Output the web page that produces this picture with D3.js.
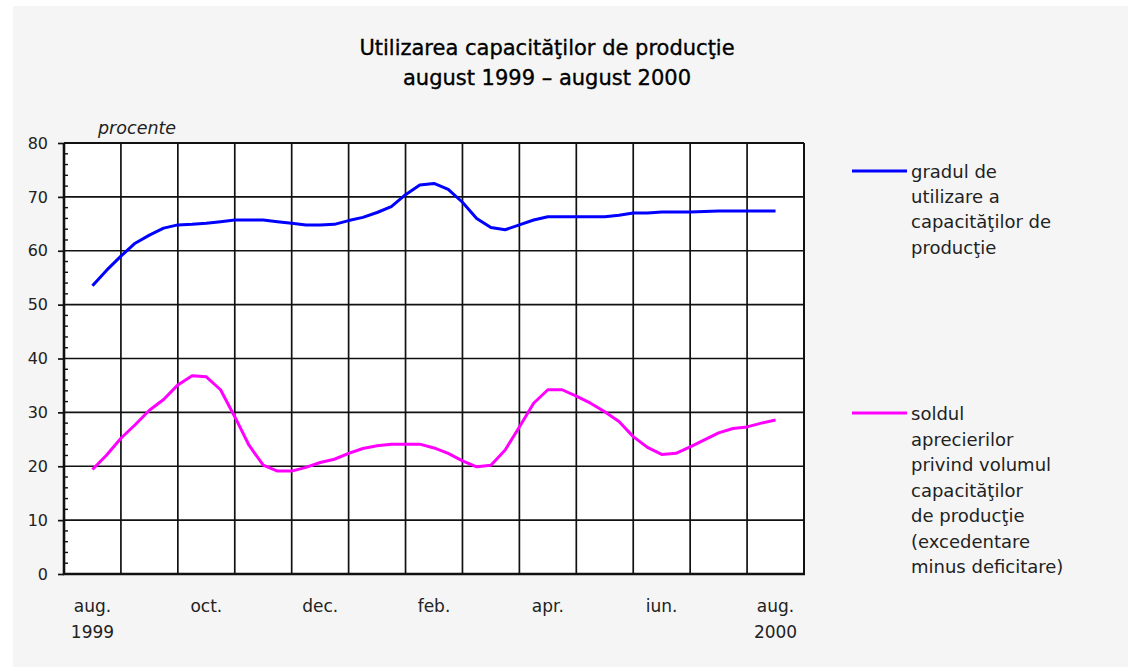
<!DOCTYPE html>
<html>
<head>
<meta charset="utf-8">
<script src="https://cdn.jsdelivr.net/npm/d3@7"></script>
<style>
body{margin:0;background:#fff;}
text{font-family:"DejaVu Sans",Arial,sans-serif;fill:#222;}
</style>
</head>
<body>
<div id="chart"></div>
<script>
var w = 1128;
var h = 667;

// luni (categorii) si etichete
var months = ["aug.","sep.","oct.","nov.","dec.","ian.","feb.","mar.","apr.","mai","iun.","iul.","aug."];
var monthLabels = ["aug.","","oct.","","dec.","","feb.","","apr.","","iun.","","aug."];
var yearLabels = ["1999","","","","","","","","","","","","2000"];
var yTicks = [0,10,20,30,40,50,60,70,80];

// valori citite la fiecare sfert de luna (aug 1999 ... aug 2000)
var gradUtilizare = [53.5,56.4,59.0,61.4,62.9,64.2,64.8,64.9,65.1,65.4,65.7,65.7,65.7,65.4,65.1,64.8,
	64.8,64.9,65.6,66.2,67.1,68.2,70.4,72.2,72.5,71.4,69.0,66.0,64.3,63.9,64.8,65.7,
	66.3,66.3,66.3,66.3,66.3,66.6,67.0,67.0,67.2,67.2,67.2,67.3,67.4,67.4,67.4,67.4,67.4];
var soldAprecieri = [19.4,22.1,25.2,27.7,30.4,32.4,35.1,36.8,36.6,34.2,29.2,23.9,20.2,19.1,19.1,19.8,
	20.7,21.3,22.4,23.3,23.8,24.1,24.1,24.1,23.4,22.4,21.0,19.9,20.2,23.0,27.3,31.7,
	34.2,34.2,33.0,31.7,30.1,28.3,25.5,23.5,22.2,22.4,23.6,24.9,26.2,27.0,27.3,28.0,28.6];

var legend1 = ["gradul de","utilizare a","capacităţilor de","producţie"];
var legend2 = ["soldul","aprecierilor","privind volumul","capacităţilor","de producţie","(excedentare","minus deficitare)"];

var pLeft = 64, pRight = 804, pTop = 143, pBottom = 574;

var svg = d3.select("#chart").append("svg")
	.attr("width", w)
	.attr("height", h);

svg.append("rect")
	.attr("x", 13).attr("y", 6)
	.attr("width", w - 13).attr("height", h - 6)
	.style("fill", "#f5f5f5");

// titlu
svg.append("text").attr("x", 547).attr("y", 55)
	.attr("text-anchor", "middle").style("font-size", "21px").style("fill", "#000")
	.style("stroke", "#000").style("stroke-width", 0.35)
	.text("Utilizarea capacităţilor de producţie");
svg.append("text").attr("x", 547).attr("y", 85)
	.attr("text-anchor", "middle").style("font-size", "21px").style("fill", "#000")
	.style("stroke", "#000").style("stroke-width", 0.35)
	.text("august 1999 – august 2000");

var xscale = d3.scaleBand()
	.domain(d3.range(months.length))
	.range([pLeft, pRight])
	.padding(0);

var xpos = d3.scaleLinear()
	.domain([0, months.length])
	.range([pLeft, pRight]);

var yscale = d3.scaleLinear()
	.domain([0, 80])
	.range([pBottom, pTop]);

svg.append("rect")
	.attr("x", pLeft).attr("y", pTop)
	.attr("width", pRight - pLeft).attr("height", pBottom - pTop)
	.style("fill", "#fff");

// grila orizontala
svg.selectAll(".hgrid")
	.data(yTicks.filter(function(d){return d > 0 && d < 80;}))
	.enter().append("line")
	.attr("x1", pLeft).attr("x2", pRight)
	.attr("y1", function(d){return yscale(d);})
	.attr("y2", function(d){return yscale(d);})
	.style("stroke", "#111").style("stroke-width", 1.7);

// grila verticala
svg.selectAll(".vgrid")
	.data(d3.range(1, months.length))
	.enter().append("line")
	.attr("x1", function(i){return xscale(i);})
	.attr("x2", function(i){return xscale(i);})
	.attr("y1", pTop).attr("y2", pBottom)
	.style("stroke", "#111").style("stroke-width", 1.7);

// chenar
svg.append("line").attr("x1", pLeft).attr("x2", pRight).attr("y1", pTop).attr("y2", pTop)
	.style("stroke", "#111").style("stroke-width", 2);
svg.append("line").attr("x1", pRight).attr("x2", pRight).attr("y1", pTop).attr("y2", pBottom)
	.style("stroke", "#111").style("stroke-width", 2);

// axa y
var yAxis = d3.axisLeft(yscale).tickValues(yTicks).tickSize(6).tickPadding(10);
var ga = svg.append("g").attr("transform", "translate(" + pLeft + ",0)").call(yAxis);
ga.select(".domain").remove();
ga.selectAll(".tick line").style("stroke", "#111").style("stroke-width", 1.7);
ga.selectAll(".tick text").style("font-size", "16px").style("font-family", "DejaVu Sans, Arial, sans-serif").style("fill", "#222");

// gradatii minore
svg.selectAll(".minor")
	.data(d3.range(0, 81, 2).filter(function(d){return d % 10 !== 0;}))
	.enter().append("line")
	.attr("x1", pLeft).attr("x2", pLeft + 4)
	.attr("y1", function(d){return yscale(d);})
	.attr("y2", function(d){return yscale(d);})
	.style("stroke", "#111").style("stroke-width", 1.4);

svg.append("line").attr("x1", pLeft).attr("x2", pLeft).attr("y1", pTop).attr("y2", pBottom + 1)
	.style("stroke", "#111").style("stroke-width", 2.6);
svg.append("line").attr("x1", pLeft - 1).attr("x2", pRight + 1).attr("y1", pBottom).attr("y2", pBottom)
	.style("stroke", "#111").style("stroke-width", 2.6);

svg.append("text").attr("x", 98).attr("y", 134)
	.style("font-size", "17.5px").style("font-style", "italic")
	.text("procente");

// etichete x
svg.selectAll(".mlab")
	.data(monthLabels)
	.enter().append("text")
	.attr("x", function(d, i){return xscale(i) + xscale.bandwidth() / 2;})
	.attr("y", 612)
	.attr("text-anchor", "middle")
	.style("font-size", "17px")
	.text(function(d){return d;});
svg.selectAll(".ylab")
	.data(yearLabels)
	.enter().append("text")
	.attr("x", function(d, i){return xscale(i) + xscale.bandwidth() / 2;})
	.attr("y", 638)
	.attr("text-anchor", "middle")
	.style("font-size", "17px")
	.text(function(d){return d;});

// linii
var line = d3.line()
	.x(function(d, i){return xpos(i / 4 + 0.5);})
	.y(function(d){return yscale(d);});

svg.append("path").datum(gradUtilizare)
	.attr("d", line)
	.style("fill", "none").style("stroke", "#0000ff").style("stroke-width", 3)
	.style("stroke-linejoin", "round");
svg.append("path").datum(soldAprecieri)
	.attr("d", line)
	.style("fill", "none").style("stroke", "#ff00ff").style("stroke-width", 3)
	.style("stroke-linejoin", "round");

// legenda
function legend(color, lines, y0, step){
	svg.append("line").attr("x1", 852).attr("x2", 907).attr("y1", y0 - 7).attr("y2", y0 - 7)
		.style("stroke", color).style("stroke-width", 3);
	svg.selectAll(null).data(lines).enter().append("text")
		.attr("x", 911)
		.attr("y", function(d, i){return y0 + i * step;})
		.style("font-size", "18px")
		.text(function(d){return d;});
}
legend("#0000ff", legend1, 178, 25.2);
legend("#ff00ff", legend2, 420, 25.5);
</script>
</body>
</html>
